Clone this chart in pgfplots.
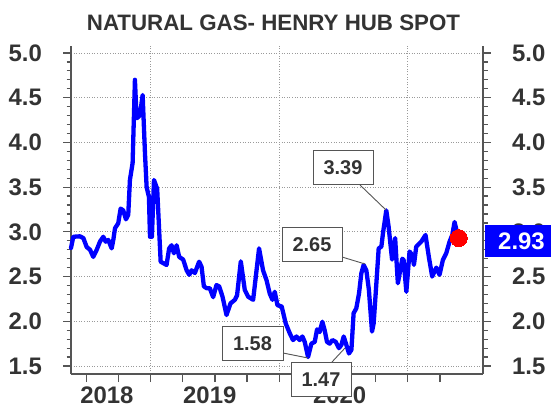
\documentclass[border=0pt]{standalone}
\usepackage{pgfplots}
\pgfplotsset{compat=1.18}
\usepackage{fontspec}
\setmainfont{Liberation Sans}
\definecolor{txt}{HTML}{333333}
\definecolor{axgray}{HTML}{555555}
\definecolor{gridgray}{HTML}{9A9A9A}
\definecolor{lineblue}{HTML}{0000FF}
\newcommand{\tickfont}{\fontsize{24}{24}\selectfont\bfseries}
\newcommand{\callfont}{\fontsize{20}{20}\selectfont\bfseries}
\begin{document}
\begin{tikzpicture}
\pgfplotsset{common/.style={
  at={(71bp,33bp)}, anchor=south west, scale only axis,
  width=412bp, height=328bp,
  xmin=2018.381, xmax=2021.584, ymin=1.4106, ymax=5.078,
  clip=false, tick align=outside,
  major tick length=8bp, minor tick length=4.5bp,
  axis line style={-, draw=axgray, line width=1.4bp},
  tick style={draw=axgray, line width=1.2bp},
  ytick={1.5,2.0,2.5,3.0,3.5,4.0,4.5,5.0},
  minor ytick={1.6,1.7,1.8,1.9,2.1,2.2,2.3,2.4,2.6,2.7,2.8,2.9,3.1,3.2,3.3,3.4,3.6,3.7,3.8,3.9,4.1,4.2,4.3,4.4,4.6,4.7,4.8,4.9},
  yticklabel style={font=\tickfont, text=txt, inner sep=0pt},
  xticklabel style={font=\tickfont, text=txt, inner sep=0pt},
  /pgf/number format/.cd, fixed, fixed zerofill, precision=1, assume math mode=true
}}
% grid + right axis
\begin{axis}[common,
  axis y line*=right, axis x line*=bottom,
  x axis line style={draw=none},
  xtick={2019,2020,2021}, xticklabels={}, xtick style={draw=none},
  xmajorgrids, ymajorgrids,
  grid style={gridgray, line width=0.8bp, dash pattern=on 1bp off 1.6bp},
  yticklabel style={anchor=west, xshift=21bp},
]
\addplot[draw=none] coordinates {(2019,3)};
\end{axis}
% data + left axis + bottom axis
\begin{axis}[common,
  axis y line*=left, axis x line*=bottom,
  xtick={2018.5,2018.75,2019,2019.25,2019.5,2019.75,2020,2020.25,2020.5,2020.75,2021,2021.25},
  xticklabels={},
  extra x ticks={2018.66,2019.46,2020.47},
  extra x tick labels={2018,2019,2020},
  extra x tick style={major tick length=0pt, xticklabel style={anchor=base, yshift=-29bp}},
  yticklabel style={anchor=east, xshift=-21bp},
]
\addplot[only marks, color=red, mark=*, mark size=8.5bp, mark options={draw=red, fill=red, line width=0pt}] coordinates {(2021.396,2.93)};
\addplot[lineblue, line width=4.3bp, line join=round, line cap=round] coordinates {
(2018.381,2.82) (2018.399,2.945) (2018.451,2.95) (2018.477,2.93) (2018.503,2.83)
(2018.529,2.80) (2018.554,2.72) (2018.581,2.80) (2018.606,2.89) (2018.632,2.945)
(2018.651,2.89) (2018.671,2.91) (2018.697,2.815) (2018.710,2.91) (2018.723,3.04)
(2018.748,3.095) (2018.767,3.26) (2018.787,3.24) (2018.808,3.14) (2018.826,3.19)
(2018.839,3.58) (2018.860,3.77) (2018.878,4.70) (2018.891,4.27) (2018.909,4.29)
(2018.922,4.36) (2018.938,4.53) (2018.956,3.88) (2018.969,3.50) (2018.987,3.39)
(2018.995,2.945) (2019.010,2.945) (2019.026,3.58) (2019.051,3.48) (2019.078,2.666)
(2019.111,2.64) (2019.124,2.63) (2019.144,2.815) (2019.163,2.85) (2019.181,2.76)
(2019.202,2.85) (2019.222,2.72) (2019.253,2.69) (2019.280,2.57) (2019.300,2.52)
(2019.318,2.57) (2019.344,2.54) (2019.377,2.666) (2019.396,2.61) (2019.414,2.39)
(2019.435,2.37) (2019.460,2.37) (2019.486,2.27) (2019.512,2.405) (2019.533,2.39)
(2019.559,2.275) (2019.590,2.07) (2019.621,2.20) (2019.655,2.24) (2019.672,2.29)
(2019.701,2.67) (2019.732,2.35) (2019.758,2.275) (2019.797,2.24) (2019.843,2.815)
(2019.874,2.57) (2019.901,2.46) (2019.926,2.31) (2019.947,2.24) (2019.965,2.33)
(2019.986,2.18) (2020.019,2.165) (2020.050,1.977) (2020.082,1.865) (2020.107,1.79)
(2020.134,1.83) (2020.159,1.79) (2020.180,1.83) (2020.198,1.77) (2020.224,1.60)
(2020.250,1.75) (2020.276,1.77) (2020.294,1.91) (2020.314,1.88) (2020.335,1.995)
(2020.353,1.90) (2020.371,1.77) (2020.392,1.75) (2020.413,1.79) (2020.439,1.77)
(2020.464,1.70) (2020.483,1.735) (2020.501,1.83) (2020.522,1.735) (2020.542,1.64)
(2020.561,1.68) (2020.578,2.09) (2020.599,2.145) (2020.620,2.31) (2020.638,2.535)
(2020.656,2.63) (2020.677,2.57) (2020.697,2.35) (2020.721,1.885) (2020.734,1.977)
(2020.755,2.425) (2020.773,2.815) (2020.794,2.835) (2020.806,2.98) (2020.832,3.24)
(2020.850,3.06) (2020.877,2.69) (2020.901,2.93) (2020.922,2.425) (2020.957,2.70)
(2020.967,2.685) (2020.988,2.33) (2021.013,2.78) (2021.034,2.74) (2021.047,2.63)
(2021.065,2.835) (2021.104,2.89) (2021.137,2.965) (2021.163,2.72) (2021.189,2.50)
(2021.221,2.60) (2021.246,2.52) (2021.272,2.685) (2021.298,2.76) (2021.324,2.89)
(2021.345,2.965) (2021.363,3.11) (2021.384,2.98) (2021.396,2.93)
};
\end{axis}
% title
\node[anchor=base, font=\fontsize{22.4}{22.4}\selectfont\bfseries, text=txt, inner sep=0pt] at (273.5bp,376.3bp) {NATURAL GAS- HENRY HUB SPOT};
% callouts
\draw[axgray, line width=0.9bp] (360bp,222bp) -- (386bp,197bp);
\draw[axgray, line width=0.9bp] (342bp,150bp) -- (365bp,143bp);
\draw[axgray, line width=0.9bp] (283bp,54bp) -- (308bp,49bp);
\draw[axgray, line width=0.9bp] (332bp,45bp) -- (345bp,59bp);
\tikzset{callout/.style={draw=axgray, fill=white, line width=1bp, minimum width=60bp, minimum height=34bp, inner sep=0pt, font=\callfont, text=txt}}
\node[callout] at (343bp,239bp) {3.39};
\node[callout] at (312bp,162.5bp) {2.65};
\node[callout, minimum width=61bp] at (252.5bp,63.5bp) {1.58};
\node[callout] at (321bp,27.5bp) {1.47};
% last value box
\fill[lineblue] (485bp,150bp) rectangle (565bp,182bp);
\node[anchor=west, text=white, font=\tickfont, inner sep=0pt] at (498bp,166bp) {2.93};
\pgfresetboundingbox
\useasboundingbox (0,0) rectangle (551bp,407bp);
\end{tikzpicture}
\end{document}
